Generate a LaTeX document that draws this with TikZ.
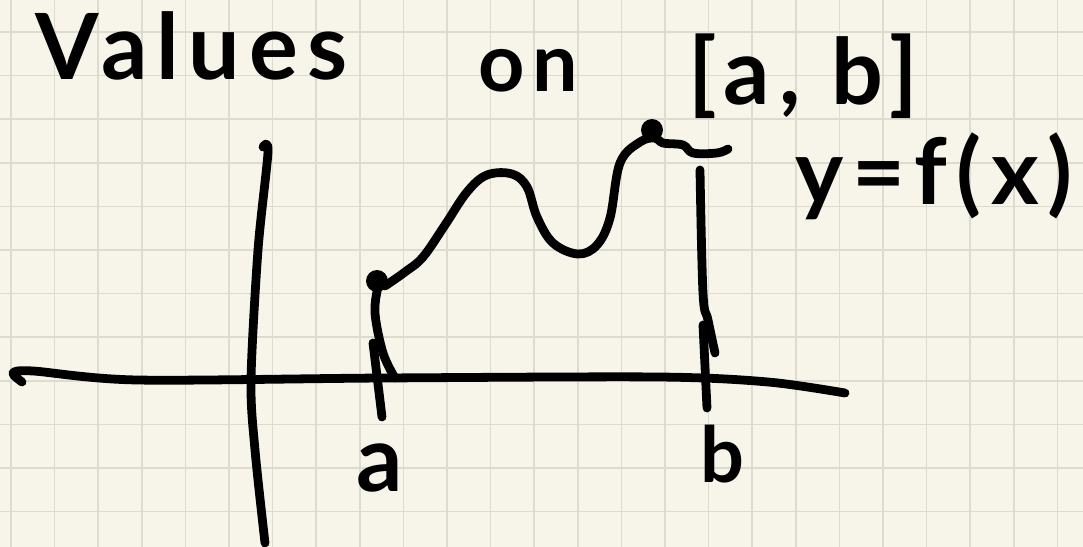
\documentclass[tikz,border=0pt]{standalone}
\usepackage{fontspec}
\setmainfont{Lato}
\newfontfamily\handfont{Lato}[LetterSpace=10]
\definecolor{paper}{RGB}{247,245,233}
\definecolor{gridline}{RGB}{221,219,206}
\usetikzlibrary{positioning}

\begin{document}
\begin{tikzpicture}[x=0.02cm, y=-0.02cm, pen/.style={line width=5pt, line cap=round, line join=round}, every node/.style={inner sep=0pt, font=\handfont\bfseries\fontsize{52}{60}\selectfont}]
% Paper and grid
\fill[paper] (0,0) rectangle (1083,547);
\useasboundingbox (0,0) rectangle (1083,547);
\foreach \gx in {0,...,24} {
  \draw[gridline, line width=1pt] (11+43.6*\gx,0) -- (11+43.6*\gx,547);
}
\foreach \gy in {0,...,11} {
  \draw[gridline, line width=1pt] (0,32+43.6*\gy) -- (1083,32+43.6*\gy);
}
% Axes
\draw[pen] plot[smooth, tension=0.5] coordinates {(22,382) (13,373) (33,371) (137,380) (384,378) (658,377) (768,382) (845,393)};
\draw[pen] plot[smooth, tension=0.5] coordinates {(263,147) (268,152) (258,250) (251,380) (255,450) (265,543)};
% Endpoints of the interval
\coordinate (pa) at (377,281);
\coordinate (pb) at (652,130);
\fill (pa) circle[radius=0.22cm];
\fill (pb) circle[radius=0.22cm];
% Graph y=f(x)
\draw[pen] plot[smooth, tension=0.6] coordinates {(385,286) (405,272) (423,257) (445,225) (467,192) (487,175) (512,174) (527,187) (537,217) (553,243) (578,254) (597,245) (610,218) (620,163) (640,142) (655,138) (663,143) (683,145) (693,153) (717,153) (728,149)};
% Verticals at a and b
\draw[pen] plot[smooth, tension=0.6] coordinates {(378,287) (375,313) (383,353) (395,378)};
\draw[pen] (373,343) -- (382,417);
\draw[pen] plot[smooth, tension=0.6] coordinates {(700,170) (703,293) (708,320) (715,353)};
\draw[pen] (703,325) -- (707,408);
% Labels
\node[anchor=base west] (values) at (35,80) {Values};
\node[anchor=base west, font=\handfont\bfseries\fontsize{46}{52}\selectfont] (on) at (478,92) {on};
\node[anchor=base west] (interval) at (688,105) {[a, b]};
\node[anchor=base west] (fx) at (795,205) {y=f(x)};
\node[anchor=base] (alabel) at (380,492) {a};
\node[anchor=base, font=\handfont\bfseries\fontsize{44}{50}\selectfont] (blabel) at (722,482) {b};
\end{tikzpicture}
\end{document}
